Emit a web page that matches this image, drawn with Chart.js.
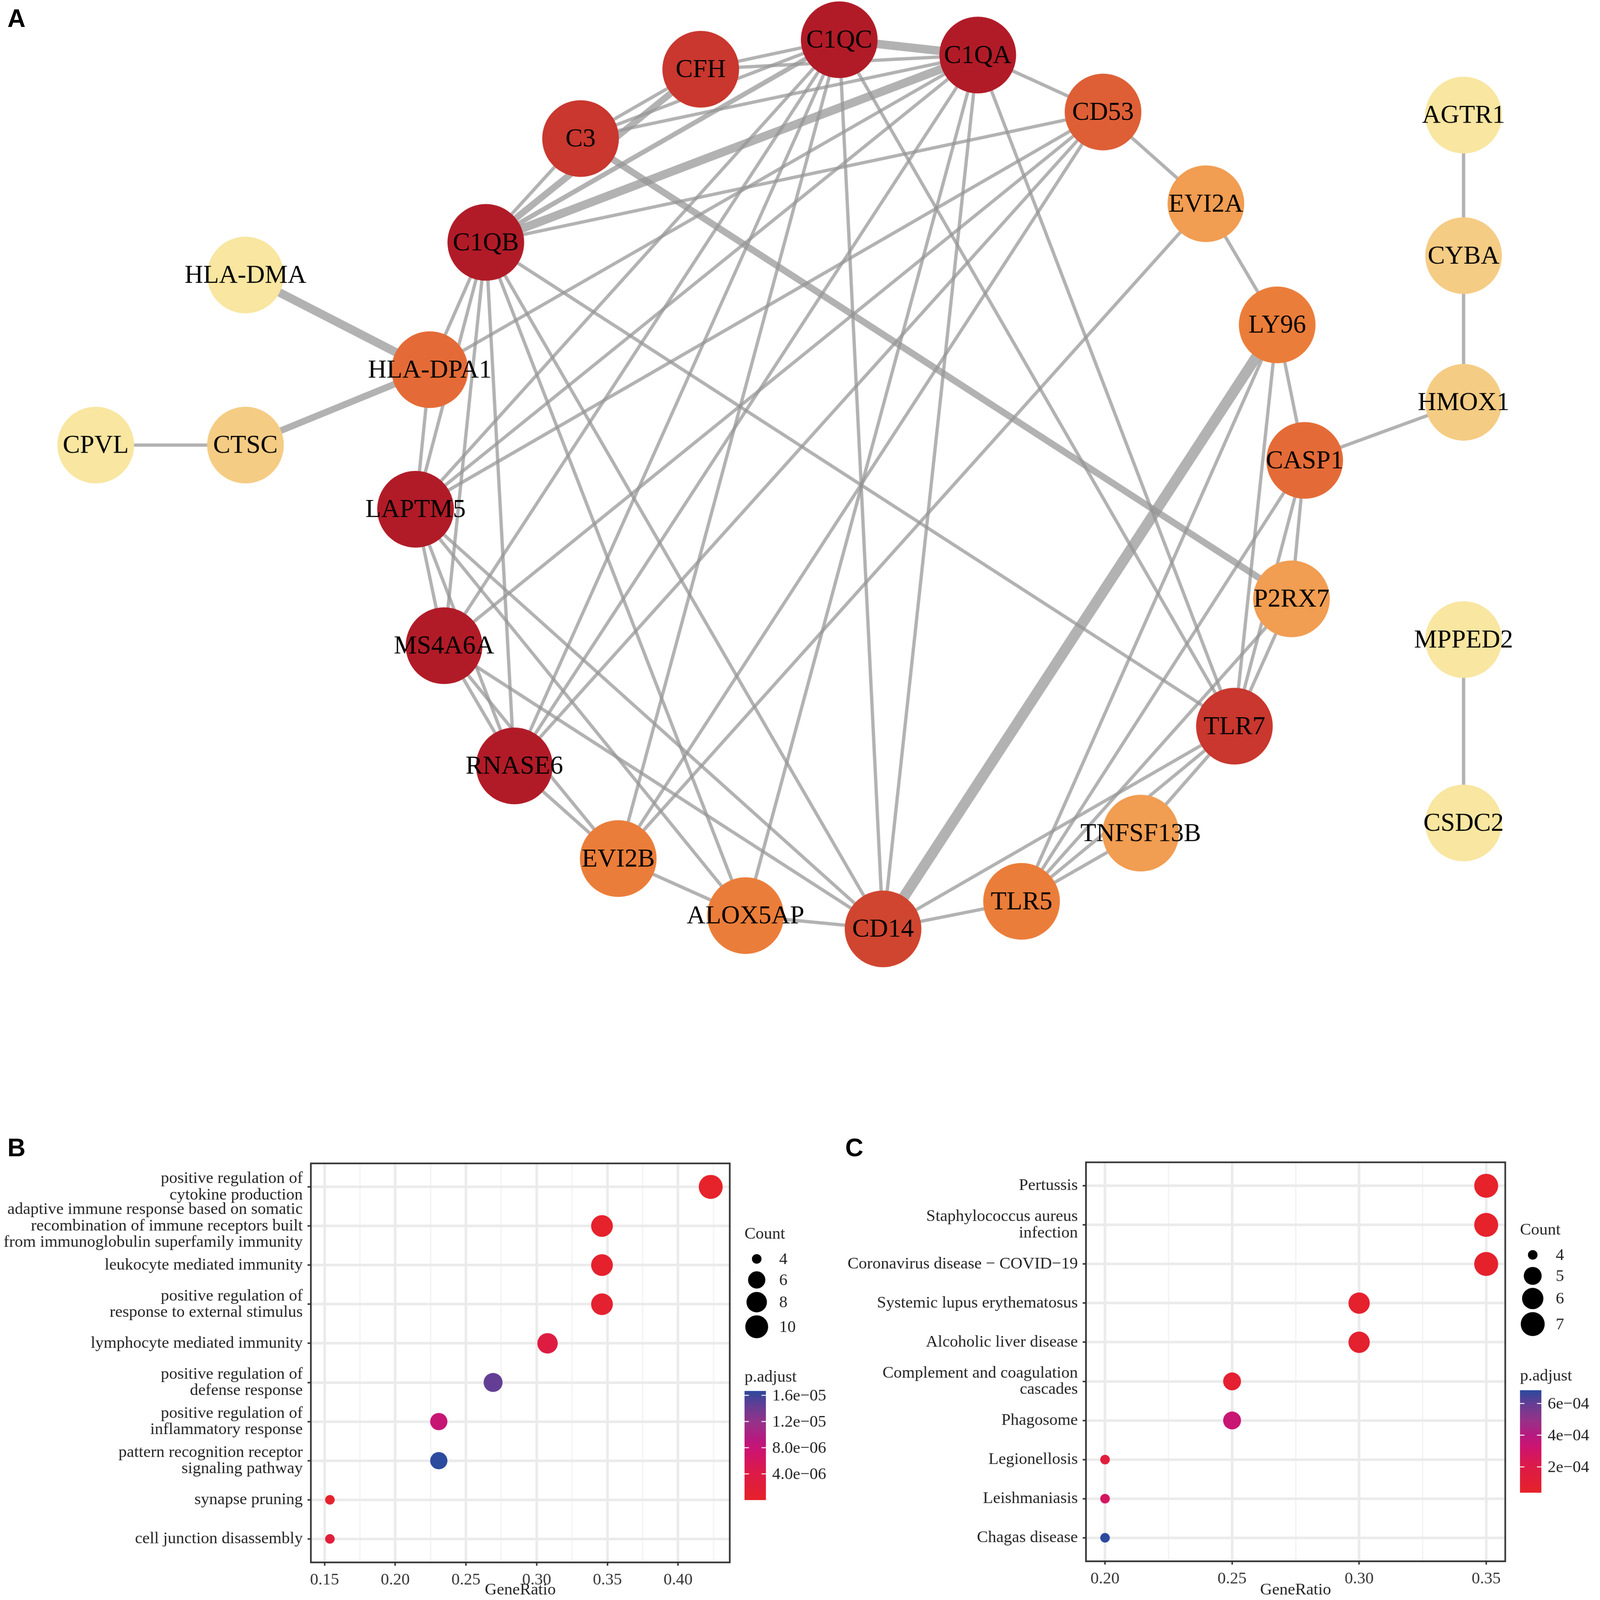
<!DOCTYPE html>
<html>
<head>
<meta charset="utf-8">
<script src="https://cdn.jsdelivr.net/npm/chart.js@4.4.1/dist/chart.umd.min.js"></script>
<style>
  html, body { margin: 0; padding: 0; background: #fff; overflow: hidden; }
  #page { position: absolute; left: 0; top: 0; width: 4317px; height: 4339px; transform-origin: 0 0; }
  .panel { position: absolute; }
  .tag { position: absolute; font: bold 68px 'Liberation Sans', Arial, sans-serif; line-height: 68px; color: #000; }
</style>
</head>
<body>
<div id="page">
  <div class="tag" style="left:20px;top:15px">A</div>
  <div class="tag" style="left:20px;top:3078px">B</div>
  <div class="tag" style="left:2292px;top:3078px">C</div>
  <div class="panel" style="left:0;top:0"><canvas id="net" width="4317" height="2800"></canvas></div>
  <div class="panel" style="left:0;top:3060px"><canvas id="goPlot" width="2250" height="1279"></canvas></div>
  <div class="panel" style="left:2250px;top:3060px"><canvas id="keggPlot" width="2067" height="1279"></canvas></div>
</div>

<script>
// ---- A: PPI network (layout units) ----
const nodeNames = ['C1QC', 'C1QA', 'CFH', 'C3', 'CD53', 'EVI2A', 'C1QB', 'HLA-DMA', 'LY96', 'HLA-DPA1',
  'CTSC', 'CPVL', 'CASP1', 'LAPTM5', 'P2RX7', 'MS4A6A', 'TLR7', 'RNASE6', 'EVI2B', 'TNFSF13B',
  'TLR5', 'ALOX5AP', 'CD14', 'AGTR1', 'CYBA', 'HMOX1', 'MPPED2', 'CSDC2'];
const nodeX = [824, 960, 688, 570, 1083, 1184, 477, 241, 1254, 422,
  241, 94, 1281, 408, 1268, 436, 1212, 505, 607, 1120,
  1003, 732, 867, 1437, 1437, 1437, 1437, 1437];
const nodeY = [39, 54, 68, 136, 110, 200, 238, 270, 319, 363,
  437, 437, 452, 500, 588, 634, 713, 752, 843, 818,
  885, 899, 912, 113, 251, 395, 628, 808];
// shading score 1 (pale) .. 9 (dark red)
const nodeScore = [9, 9, 8, 8, 6, 3, 9, 1, 4, 5,
  2, 1, 5, 9, 3, 9, 8, 9, 4, 3,
  4, 4, 7, 1, 2, 2, 1, 1];
// [from, to, weight]
const edges = [
  ['C1QC', 'C1QA', 4], ['C1QB', 'C1QA', 4], ['C1QB', 'CFH', 3], ['C3', 'P2RX7', 3], ['LY96', 'CD14', 5],
  ['HLA-DMA', 'HLA-DPA1', 4], ['CTSC', 'HLA-DPA1', 3],
  ['CPVL', 'CTSC', 1], ['AGTR1', 'CYBA', 1], ['CYBA', 'HMOX1', 1], ['HMOX1', 'CASP1', 1], ['MPPED2', 'CSDC2', 1],
  ['CFH', 'C1QC', 1], ['CFH', 'C1QA', 1], ['CFH', 'C3', 1], ['C3', 'C1QC', 1], ['C3', 'C1QA', 1], ['C3', 'C1QB', 1],
  ['C1QB', 'C1QC', 2], ['C1QA', 'CD53', 1], ['CD53', 'EVI2A', 1], ['EVI2A', 'LY96', 1], ['LY96', 'CASP1', 1],
  ['CASP1', 'P2RX7', 1], ['P2RX7', 'TLR7', 1], ['TLR7', 'TNFSF13B', 1], ['TNFSF13B', 'TLR5', 1], ['TLR5', 'CD14', 1],
  ['CD14', 'ALOX5AP', 1], ['ALOX5AP', 'EVI2B', 1], ['EVI2B', 'RNASE6', 1], ['RNASE6', 'MS4A6A', 1], ['MS4A6A', 'LAPTM5', 1],
  ['LAPTM5', 'HLA-DPA1', 1], ['HLA-DPA1', 'C1QB', 1],
  ['C1QB', 'CD53', 1], ['C1QB', 'LAPTM5', 1], ['C1QB', 'MS4A6A', 1], ['C1QB', 'RNASE6', 1], ['C1QB', 'ALOX5AP', 1],
  ['C1QB', 'CD14', 1], ['C1QB', 'TLR7', 1],
  ['C1QC', 'LAPTM5', 1], ['C1QC', 'MS4A6A', 1], ['C1QC', 'RNASE6', 1], ['C1QC', 'EVI2B', 1], ['C1QC', 'CD14', 1], ['C1QC', 'TLR7', 1],
  ['C1QA', 'HLA-DPA1', 1], ['C1QA', 'LAPTM5', 1], ['C1QA', 'RNASE6', 1], ['C1QA', 'ALOX5AP', 1], ['C1QA', 'CD14', 1], ['C1QA', 'TLR7', 1],
  ['CD53', 'LAPTM5', 1], ['CD53', 'MS4A6A', 1], ['CD53', 'RNASE6', 1], ['CD53', 'EVI2B', 1],
  ['EVI2A', 'EVI2B', 1], ['LY96', 'TLR7', 1], ['LY96', 'TLR5', 1], ['CASP1', 'TLR7', 1], ['CASP1', 'TLR5', 1],
  ['TLR7', 'TLR5', 1], ['TLR7', 'CD14', 1], ['LAPTM5', 'RNASE6', 1], ['LAPTM5', 'ALOX5AP', 1], ['LAPTM5', 'CD14', 1],
  ['MS4A6A', 'EVI2B', 1], ['MS4A6A', 'CD14', 1], ['P2RX7', 'TLR5', 1]
];

// ---- B: GO enrichment ----
const goTerms = [
  ['positive regulation of', 'cytokine production'],
  ['adaptive immune response based on somatic', 'recombination of immune receptors built', 'from immunoglobulin superfamily immunity'],
  'leukocyte mediated immunity',
  ['positive regulation of', 'response to external stimulus'],
  'lymphocyte mediated immunity',
  ['positive regulation of', 'defense response'],
  ['positive regulation of', 'inflammatory response'],
  ['pattern recognition receptor', 'signaling pathway'],
  'synapse pruning',
  'cell junction disassembly'
];
const goGeneRatio = [0.4231, 0.3462, 0.3462, 0.3462, 0.3077, 0.2692, 0.2308, 0.2308, 0.1538, 0.1538];
const goCount = [11, 9, 9, 9, 8, 7, 6, 6, 4, 4];
const goPadj = [5e-9, 2e-7, 6e-7, 8e-7, 3.5e-6, 1.45e-5, 8e-6, 1.668e-5, 3e-7, 2.5e-6];
const goCountKeys = [4, 6, 8, 10];
const goPTicks = [4e-6, 8e-6, 1.2e-5, 1.6e-5];

// ---- C: KEGG enrichment ----
const keggTerms = [
  'Pertussis',
  ['Staphylococcus aureus', 'infection'],
  'Coronavirus disease \u2212 COVID\u221219',
  'Systemic lupus erythematosus',
  'Alcoholic liver disease',
  ['Complement and coagulation', 'cascades'],
  'Phagosome',
  'Legionellosis',
  'Leishmaniasis',
  'Chagas disease'
];
const keggGeneRatio = [0.35, 0.35, 0.35, 0.30, 0.30, 0.25, 0.25, 0.20, 0.20, 0.20];
const keggCount = [7, 7, 7, 6, 6, 5, 5, 4, 4, 4];
const keggPadj = [3.7e-5, 4.2e-5, 5.0e-5, 6.0e-5, 6.5e-5, 8.0e-5, 3.4e-4, 1.3e-4, 2.8e-4, 6.84e-4];
const keggCountKeys = [4, 5, 6, 7];
const keggPTicks = [2e-4, 4e-4, 6e-4];

// ---------------------------------------------------------------
// fit the 4317 x 4339 page into whatever viewport we get
const pageEl = document.getElementById('page');
const fit = Math.min(window.innerWidth / 4317, window.innerHeight / 4339);
if (Math.abs(fit - 1) > 0.002) pageEl.style.transform = 'scale(' + fit + ')';

const SERIF = "'Liberation Serif', 'Times New Roman', Times, serif";
Chart.defaults.font.family = SERIF;
Chart.defaults.color = '#222';

const nodeShades = ['#F8E6A1', '#F5CC84', '#F19D52', '#EB7D3A', '#E46B37', '#DE5F36', '#D0452F', '#C9372E', '#B11B27'];
const edgeWidths = [0, 9, 13, 18, 23, 29];
const pGradient = [[0, '#E6222A'], [0.25, '#DD1B47'], [0.45, '#CD1470'], [0.55, '#B9197F'],
  [0.7, '#993189'], [0.85, '#6B3C93'], [1, '#2C4A9E']];

function hexRgb(h) { return [1, 3, 5].map(i => parseInt(h.slice(i, i + 2), 16)); }
function gradientAt(t) {
  t = Math.max(0, Math.min(1, t));
  for (let i = 1; i < pGradient.length; i++) {
    const [t1, c1] = pGradient[i];
    if (t <= t1) {
      const [t0, c0] = pGradient[i - 1];
      const f = (t - t0) / (t1 - t0), a = hexRgb(c0), b = hexRgb(c1);
      return 'rgb(' + a.map((v, k) => Math.round(v + (b[k] - v) * f)).join(',') + ')';
    }
  }
  return pGradient[pGradient.length - 1][1];
}

// network
const netW = 4317, netH = 2800, layoutW = 1563;
const nodeAt = name => nodeNames.indexOf(name);
const netDatasets = [{
  order: 0,
  data: nodeNames.map((n, i) => ({ x: nodeX[i], y: nodeY[i] })),
  pointRadius: 104, pointHoverRadius: 104,
  pointBackgroundColor: nodeScore.map(s => nodeShades[s - 1]),
  pointBorderWidth: 0, pointBorderColor: 'rgba(0,0,0,0)',
  clip: false
}];
edges.forEach(([a, b, w]) => {
  netDatasets.push({
    order: 1, showLine: true, tension: 0,
    data: [{ x: nodeX[nodeAt(a)], y: nodeY[nodeAt(a)] }, { x: nodeX[nodeAt(b)], y: nodeY[nodeAt(b)] }],
    borderColor: 'rgba(150,148,148,0.72)', borderWidth: edgeWidths[w],
    pointRadius: 0, pointHoverRadius: 0, clip: false
  });
});

const nodeLabels = {
  id: 'nodeLabels',
  afterDatasetsDraw(chart) {
    const { ctx, scales: { x, y } } = chart;
    ctx.save();
    ctx.font = '70px ' + SERIF;
    ctx.fillStyle = '#000';
    ctx.textAlign = 'center';
    ctx.textBaseline = 'middle';
    nodeNames.forEach((n, i) => ctx.fillText(n, x.getPixelForValue(nodeX[i]), y.getPixelForValue(nodeY[i]) + 3));
    ctx.restore();
  }
};

new Chart(document.getElementById('net'), {
  type: 'scatter',
  data: { datasets: netDatasets },
  options: {
    responsive: false, animation: false, devicePixelRatio: 1, events: [],
    layout: { padding: 0, autoPadding: false },
    scales: {
      x: { type: 'linear', min: 0, max: layoutW, display: false },
      y: { type: 'linear', min: 0, max: netH * layoutW / netW, reverse: true, display: false }
    },
    plugins: { legend: { display: false }, tooltip: { enabled: false } }
  },
  plugins: [nodeLabels]
});

// dot plots
const panelFrame = {
  id: 'panelFrame',
  afterDraw(chart) {
    const { ctx, chartArea: a } = chart;
    ctx.save();
    ctx.strokeStyle = '#333';
    ctx.lineWidth = 4.5;
    ctx.strokeRect(a.left, a.top, a.right - a.left, a.bottom - a.top);
    ctx.restore();
  }
};

function sciLabel(v, digits) {
  const [m, e] = v.toExponential(digits).split('e');
  const n = Math.abs(parseInt(e, 10));
  return m + 'e' + (parseInt(e, 10) < 0 ? '\u2212' : '+') + (n < 10 ? '0' : '') + n;
}

function dotPlot(id, o) {
  const n = o.terms.length;
  const lo = Math.min(...o.ratio), hi = Math.max(...o.ratio), pad = (hi - lo) * 0.05;
  const pLo = Math.min(...o.padj), pHi = Math.max(...o.padj);
  const cLo = Math.min(...o.count), cHi = Math.max(...o.count);
  const diam = c => 65 * (0.945 + 2.845 * (3 + 5 * Math.sqrt(Math.max(0, c - cLo) / (cHi - cLo)))) / (0.945 + 2.845 * 8);
  const pColour = p => gradientAt((p - pLo) / (pHi - pLo));
  const isMajor = v => Math.abs(v / 0.05 - Math.round(v / 0.05)) < 1e-6;

  const keys = {
    id: 'keys',
    afterDraw(chart) {
      const { ctx, chartArea: a } = chart;
      const x0 = a.right + 40;
      ctx.save();
      ctx.fillStyle = '#222';
      ctx.font = '45px ' + SERIF;
      ctx.textAlign = 'left';
      ctx.textBaseline = 'alphabetic';
      ctx.fillText('Count', x0, o.countTitleY);
      // size key
      const ds = o.countKeys.map(diam);
      const dMax = Math.max(...ds);
      const hs = ds.map(d => Math.max(57, d + 8));
      let y = o.countTitleY + 55;
      ds.forEach((d, i) => {
        if (i > 0) y += (hs[i - 1] + hs[i]) / 2;
        ctx.fillStyle = '#000';
        ctx.beginPath();
        ctx.arc(x0 + dMax / 2 + 2, y, d / 2, 0, Math.PI * 2);
        ctx.fill();
        ctx.fillStyle = '#222';
        ctx.textBaseline = 'middle';
        ctx.fillText(String(o.countKeys[i]), x0 + dMax + 32, y + 2);
      });
      // colour bar
      ctx.textBaseline = 'alphabetic';
      ctx.fillText('p.adjust', x0, o.pTitleY);
      const barW = 58, top = o.barTop, bot = o.barTop + o.barH;
      const g = ctx.createLinearGradient(0, bot, 0, top);
      pGradient.forEach(([t, c]) => g.addColorStop(t, c));
      ctx.fillStyle = g;
      ctx.fillRect(x0, top, barW, o.barH);
      ctx.strokeStyle = '#fff';
      ctx.lineWidth = 2.5;
      ctx.fillStyle = '#222';
      ctx.textBaseline = 'middle';
      o.pTicks.forEach(t => {
        const ty = bot - (t - pLo) / (pHi - pLo) * o.barH;
        ctx.beginPath();
        ctx.moveTo(x0, ty); ctx.lineTo(x0 + 12, ty);
        ctx.moveTo(x0 + barW - 12, ty); ctx.lineTo(x0 + barW, ty);
        ctx.stroke();
        ctx.fillText(sciLabel(t, o.pDigits), x0 + barW + 17, ty + 2);
      });
      ctx.restore();
    }
  };

  new Chart(document.getElementById(id), {
    type: 'scatter',
    data: {
      datasets: [{
        data: o.ratio.map((r, i) => ({ x: r, y: i + 1 })),
        pointRadius: ctx => (ctx.dataIndex === undefined ? 0 : diam(o.count[ctx.dataIndex]) / 2),
        pointHoverRadius: ctx => (ctx.dataIndex === undefined ? 0 : diam(o.count[ctx.dataIndex]) / 2),
        pointBackgroundColor: ctx => (ctx.dataIndex === undefined ? '#000' : pColour(o.padj[ctx.dataIndex])),
        pointBorderWidth: 0,
        pointBorderColor: 'rgba(0,0,0,0)',
        clip: false
      }]
    },
    options: {
      responsive: false, animation: false, devicePixelRatio: 1, events: [],
      layout: { padding: { left: 0, top: o.padTop, right: o.padRight, bottom: 0 }, autoPadding: false },
      scales: {
        x: {
          type: 'linear', min: lo - pad, max: hi + pad,
          afterFit: s => { s.height = o.xAxisH; },
          border: { display: false },
          grid: {
            color: c => (isMajor(c.tick.value) ? '#EBEBEB' : '#F4F4F4'),
            lineWidth: c => (isMajor(c.tick.value) ? 7 : 4),
            tickColor: c => (isMajor(c.tick.value) ? '#333' : 'rgba(0,0,0,0)'),
            tickLength: 9, tickWidth: 4
          },
          ticks: {
            stepSize: 0.025, includeBounds: false, autoSkip: false, maxRotation: 0,
            padding: 12, color: '#333', font: { size: 45 },
            callback: v => (isMajor(v) ? v.toFixed(2) : '')
          },
          title: { display: true, text: 'GeneRatio', color: '#222', font: { size: 45 }, padding: 0 }
        },
        y: {
          type: 'linear', reverse: true, min: 0.4, max: n + 0.6,
          afterFit: s => { s.width = o.yAxisW; },
          border: { display: false },
          grid: { color: '#EBEBEB', lineWidth: 7, tickColor: '#333', tickLength: 9, tickWidth: 4 },
          ticks: {
            stepSize: 1, includeBounds: false, autoSkip: false, padding: 13,
            color: '#222', font: { size: 45, lineHeight: 0.98 },
            callback: v => o.terms[Math.round(v) - 1] || ''
          }
        }
      },
      plugins: { legend: { display: false }, tooltip: { enabled: false } }
    },
    plugins: [panelFrame, keys]
  });
}

dotPlot('goPlot', {
  terms: goTerms, ratio: goGeneRatio, count: goCount, padj: goPadj,
  countKeys: goCountKeys, pTicks: goPTicks, pDigits: 1,
  padTop: 95, padRight: 271, yAxisW: 843, xAxisH: 102,
  countTitleY: 299, pTitleY: 687, barTop: 712, barH: 296
});

dotPlot('keggPlot', {
  terms: keggTerms, ratio: keggGeneRatio, count: keggCount, padj: keggPadj,
  countKeys: keggCountKeys, pTicks: keggPTicks, pDigits: 0,
  padTop: 92, padRight: 235, yAxisW: 695, xAxisH: 105,
  countTitleY: 288, pTitleY: 684, barTop: 710, barH: 278
});
</script>
</body>
</html>
